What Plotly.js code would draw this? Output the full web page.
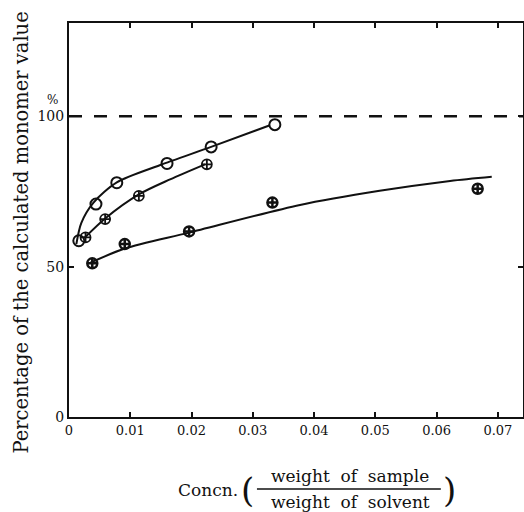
<!DOCTYPE html>
<html>
<head>
<meta charset="utf-8">
<script src="https://cdn.plot.ly/plotly-3.0.1.min.js"></script>
<style>html,body{margin:0;padding:0;background:#fff;}#chart{width:524px;height:512px;}</style>
</head>
<body>
<div id="chart"></div>
<script>
// Series A: open circles
const concA = [0.0016, 0.0044, 0.0078, 0.0160, 0.0232, 0.0336];
const pctA  = [58.6, 70.8, 77.9, 84.3, 89.8, 97.2];
// Series B: crossed circles (light)
const concB = [0.0027, 0.0059, 0.0114, 0.0225];
const pctB  = [59.7, 65.8, 73.5, 84.0];
// Series C: crossed circles (bold)
const concC = [0.0038, 0.0091, 0.0196, 0.0332, 0.0667];
const pctC  = [51.1, 57.5, 61.7, 71.3, 75.9];

// Drawn smooth curves
const curveAx = [0.0012, 0.0020, 0.0040, 0.0078, 0.0148, 0.0232, 0.0328];
const curveAy = [57.5, 64.5, 71.3, 78.0, 83.7, 89.8, 97.0];
const curveBx = [0.0025, 0.0059, 0.0114, 0.0165, 0.0222];
const curveBy = [59.5, 66.0, 74.0, 79.0, 84.0];
const curveCx = [0.0035, 0.0091, 0.0196, 0.0377, 0.0507, 0.0622, 0.0690];
const curveCy = [51.3, 56.0, 61.3, 70.5, 75.2, 78.5, 79.9];

const refX = [0, 0.0741];
const refY = [100, 100];

const xTicks = [0, 0.01, 0.02, 0.03, 0.04, 0.05, 0.06, 0.07];
const xTickText = ['0', '0.01', '0.02', '0.03', '0.04', '0.05', '0.06', '0.07'];
const yTicks = [0, 50, 100];
const yTickText = ['0', '50', '100'];

const FONT = 'DejaVu Serif, Liberation Serif, serif';
const INK = '#111';

const lineStyle = {color: INK, width: 2, shape: 'spline', smoothing: 0.8};

const traces = [
  {x: refX, y: refY, mode: 'lines', line: {color: INK, width: 2.5, dash: '13px,12px'}, hoverinfo: 'skip'},
  {x: curveAx, y: curveAy, mode: 'lines', line: lineStyle},
  {x: curveBx, y: curveBy, mode: 'lines', line: lineStyle},
  {x: curveCx, y: curveCy, mode: 'lines', line: lineStyle},
  {x: concA, y: pctA, mode: 'markers', marker: {symbol: 'circle-open', size: 11, color: INK, line: {width: 2, color: INK}}},
  {x: concB, y: pctB, mode: 'markers', marker: {symbol: 'circle-cross-open', size: 10, color: INK, line: {width: 1.8, color: INK}}},
  {x: concC, y: pctC, mode: 'markers', marker: {symbol: 'circle-cross-open', size: 10, color: INK, line: {width: 2.5, color: INK}}}
];

const layout = {
  width: 524, height: 512,
  margin: {l: 69, r: 1, t: 23, b: 95},
  paper_bgcolor: '#fff', plot_bgcolor: '#fff',
  showlegend: false,
  font: {family: FONT, color: INK, size: 13},
  xaxis: {
    range: [0, 0.0741], tickvals: xTicks, ticktext: xTickText,
    ticks: 'inside', ticklen: 5, tickwidth: 2, tickcolor: INK,
    showline: true, linewidth: 2, linecolor: INK, mirror: 'allticks',
    showgrid: false, zeroline: false,
    tickfont: {family: FONT, size: 13, color: INK}
  },
  yaxis: {
    range: [0, 131], tickvals: yTicks, ticktext: yTickText,
    ticks: 'inside', ticklen: 5, tickwidth: 2, tickcolor: INK,
    showline: true, linewidth: 2, linecolor: INK, mirror: 'allticks',
    showgrid: false, zeroline: false,
    tickfont: {family: FONT, size: 14, color: INK}
  },
  annotations: [
    {xref: 'paper', yref: 'paper', x: -0.1035, y: 0.468, text: 'Percentage of the calculated monomer value',
     textangle: -90, showarrow: false, font: {family: FONT, size: 19.5, color: INK}, xanchor: 'center', yanchor: 'middle'},
    {xref: 'paper', yref: 'y', x: -0.037, y: 105.5, text: '%', showarrow: false,
     font: {family: FONT, size: 12, color: INK}, xanchor: 'center', yanchor: 'middle'},
    {xref: 'paper', yref: 'paper', x: 0.306, y: -0.185, text: 'Concn.', showarrow: false,
     font: {family: FONT, size: 17, color: INK}, xanchor: 'center', yanchor: 'middle'},
    {xref: 'paper', yref: 'paper', x: 0.394, y: -0.185, text: '(', showarrow: false,
     font: {family: FONT, size: 34, color: INK}, xanchor: 'center', yanchor: 'middle'},
    {xref: 'paper', yref: 'paper', x: 0.839, y: -0.185, text: ')', showarrow: false,
     font: {family: FONT, size: 34, color: INK}, xanchor: 'center', yanchor: 'middle'},
    {xref: 'paper', yref: 'paper', x: 0.619, y: -0.150, text: 'weight  of  sample', showarrow: false,
     font: {family: FONT, size: 17, color: INK}, xanchor: 'center', yanchor: 'middle'},
    {xref: 'paper', yref: 'paper', x: 0.621, y: -0.216, text: 'weight  of  solvent', showarrow: false,
     font: {family: FONT, size: 17, color: INK}, xanchor: 'center', yanchor: 'middle'}
  ],
  shapes: [
    {type: 'line', xref: 'paper', yref: 'paper', x0: 0.414, x1: 0.819, y0: -0.183, y1: -0.183,
     line: {color: INK, width: 1.5}}
  ]
};

Plotly.newPlot('chart', traces, layout, {displayModeBar: false, staticPlot: true});
</script>
</body>
</html>
